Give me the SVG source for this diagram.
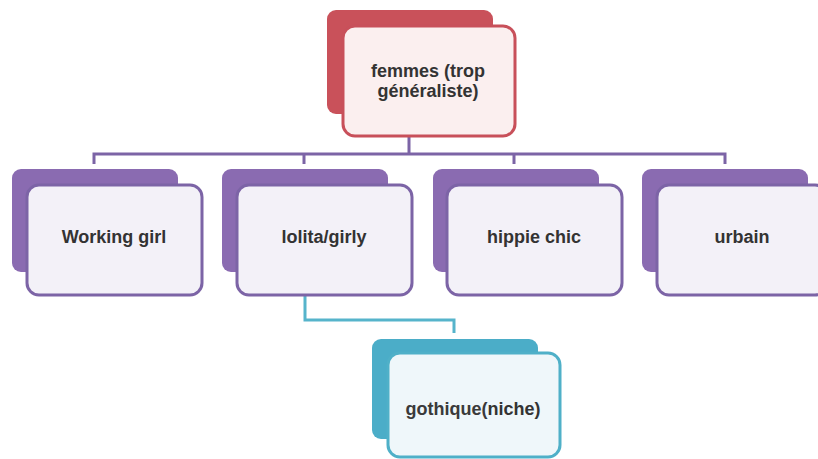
<svg xmlns="http://www.w3.org/2000/svg" width="818" height="459" viewBox="0 0 818 459">
<style>
.bg{fill:#ffffff}
.backP{fill:#8a6bb1}
.frontP{fill:#f3f1f8;stroke:#7c64a6;stroke-width:3}
.backR{fill:#c9515a}
.frontR{fill:#fbefef;stroke:#c8505a;stroke-width:3}
.backT{fill:#4badc8}
.frontT{fill:#eff7fa;stroke:#4fb0c8;stroke-width:3}
.lbl{font-family:"Liberation Sans",Arial,sans-serif;font-size:18px;font-weight:bold;fill:#333333;text-anchor:middle}
.conP{fill:none;stroke:#7c64a6;stroke-width:3}
.conT{fill:none;stroke:#56b4cb;stroke-width:3}
</style>
<rect class="bg" x="0" y="0" width="818" height="459"/>
<g id="connectors">
<path class="conP" d="M409 137 V154 M94 164 V154 H725 V164 M304 154 V164 M514 154 V164"/>
<path class="conT" d="M305 295 V320 H454 V333"/>
</g>
<g id="femmes">
<rect class="backR" x="327" y="10" width="166" height="104" rx="9"/>
<rect class="frontR" x="343" y="26" width="172" height="110" rx="12"/>
<text class="lbl" x="428" y="77">femmes (trop</text>
<text class="lbl" x="428" y="97">généraliste)</text>
</g>
<g id="working">
<rect class="backP" x="12" y="169" width="166" height="103" rx="9"/>
<rect class="frontP" x="27" y="185" width="175" height="110" rx="12"/>
<text class="lbl" x="114" y="243">Working girl</text>
</g>
<g id="lolita">
<rect class="backP" x="222" y="169" width="166" height="103" rx="9"/>
<rect class="frontP" x="237" y="185" width="175" height="110" rx="12"/>
<text class="lbl" x="324" y="243">lolita/girly</text>
</g>
<g id="hippie">
<rect class="backP" x="433" y="169" width="166" height="103" rx="9"/>
<rect class="frontP" x="447" y="185" width="175" height="110" rx="12"/>
<text class="lbl" x="534" y="243">hippie chic</text>
</g>
<g id="urbain">
<rect class="backP" x="642" y="169" width="166" height="103" rx="9"/>
<rect class="frontP" x="657" y="185" width="170" height="110" rx="12"/>
<text class="lbl" x="742" y="243">urbain</text>
</g>
<g id="gothique">
<rect class="backT" x="372" y="339" width="166" height="100" rx="9"/>
<rect class="frontT" x="388" y="353" width="172" height="104" rx="12"/>
<text class="lbl" x="473" y="415"><tspan font-weight="600" fill="#3a3a3a">gothique(</tspan>niche)</text>
</g>
</svg>
